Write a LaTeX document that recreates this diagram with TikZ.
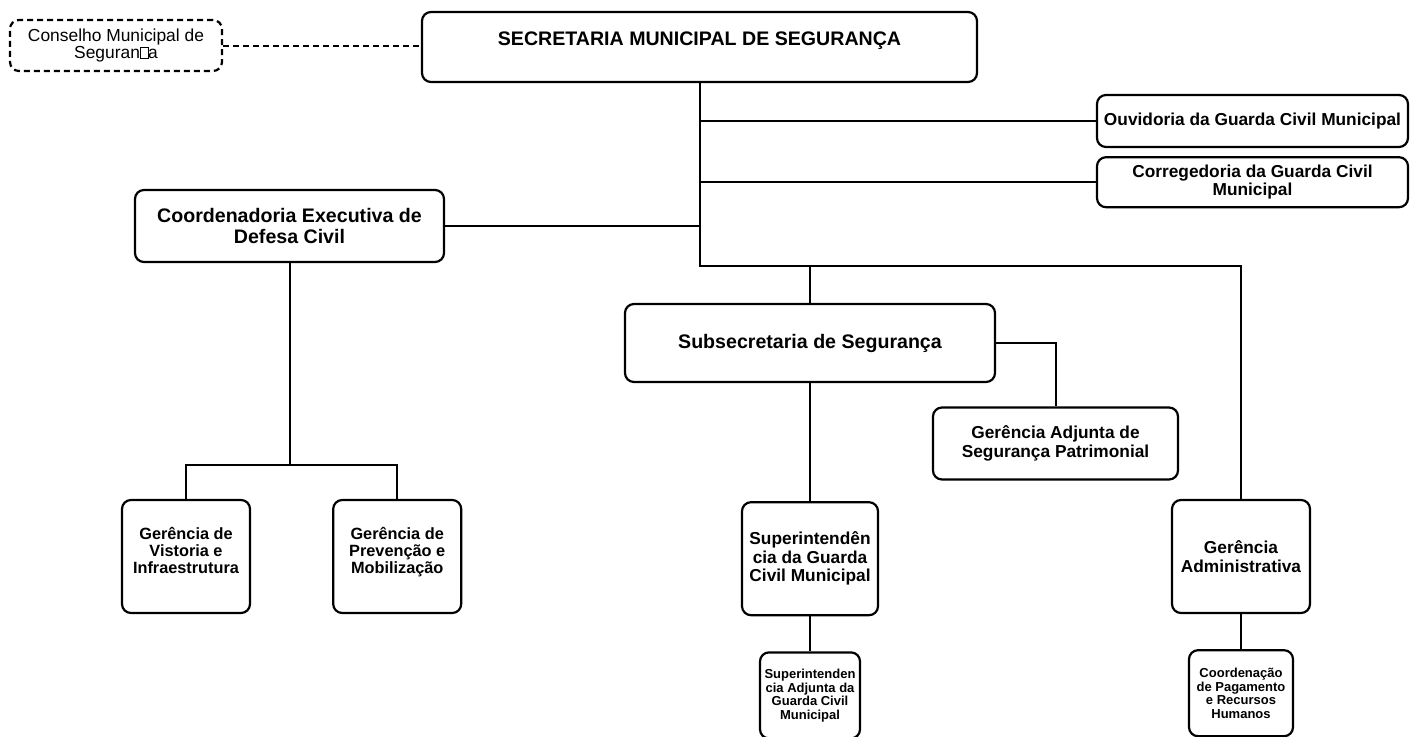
\documentclass[tikz,border=0pt]{standalone}
\usepackage{fontspec}
\setmainfont{Liberation Sans}
\usetikzlibrary{positioning}

% square that stands for the glyph the source font was missing
\newcommand{\nochar}{{\setlength{\fboxsep}{0pt}\setlength{\fboxrule}{0.6pt}\fbox{\rule{0pt}{11pt}\hspace{7pt}}}}

\begin{document}
\begin{tikzpicture}[x=1pt, y=-1pt, line width=2pt,
   box/.style={draw, line width=2.2pt, rounded corners=9pt, align=center, inner sep=2pt},
   big/.style={font=\fontsize{19.6}{21.8}\selectfont\bfseries},
   mid/.style={font=\fontsize{17.3}{18.6}\selectfont\bfseries},
   sml/.style={font=\fontsize{16.3}{17}\selectfont\bfseries},
   tny/.style={font=\fontsize{13}{13.5}\selectfont\bfseries},
   link/.style={line width=2pt}]
   \useasboundingbox (0,0) rectangle (1410,736);

   \node[box, dash pattern=on 6pt off 4pt, font=\fontsize{17.4}{15.5}\selectfont,
         minimum width=212pt, minimum height=51pt] (cons) at (116,45.5)
         {Conselho Municipal de\\ Seguran\nochar a};
   \node[box, big, minimum width=555pt, minimum height=70pt, text depth=16pt] (sec) at (699.5,47)
         {SECRETARIA MUNICIPAL DE SEGURANÇA};
   \node[box, mid, minimum width=311pt, minimum height=52pt] (ouv) at (1252.5,121)
         {Ouvidoria da Guarda Civil Municipal};
   \node[box, mid, minimum width=311pt, minimum height=50pt] (corr) [below=8pt of ouv]
         {Corregedoria da Guarda Civil\\ Municipal};
   \node[box, big, minimum width=309pt, minimum height=72pt] (cedc) at (289.5,226)
         {Coordenadoria Executiva de\\ Defesa Civil};
   \node[box, big, minimum width=370pt, minimum height=78pt] (sub) at (810,343)
         {Subsecretaria de Segurança};
   \node[box, mid, minimum width=245pt, minimum height=72pt] (gasp) at (1055.5,443.5)
         {Gerência Adjunta de\\ Segurança Patrimonial};
   \node[box, mid, minimum width=136pt, minimum height=113pt] (sgcm) [below=118pt of sub]
         {Superintendên\\ cia da Guarda\\ Civil Municipal};
   \node[box, tny, minimum width=100pt, minimum height=86pt] (sagcm) [below=35pt of sgcm]
         {Superintenden\\ cia Adjunta da\\ Guarda Civil\\ Municipal};
   \node[box, mid, minimum width=138pt, minimum height=113pt] (gadm) at (1241,556.5)
         {Gerência\\ Administrativa};
   \node[box, tny, minimum width=104pt, minimum height=86pt] (cprh) [below=35pt of gadm]
         {Coordenação\\ de Pagamento\\ e Recursos\\ Humanos};
   \node[box, sml, minimum width=128pt, minimum height=113pt] (gvi) at (186,556.5)
         {Gerência de\\ Vistoria e\\ Infraestrutura\\[-4pt]};
   \node[box, sml, minimum width=128pt, minimum height=113pt] (gpm) [right=81pt of gvi]
         {Gerência de\\ Prevenção e\\ Mobilização\\[-4pt]};

   \coordinate (bus) at (sec.south |- 0,266);
   \coordinate (dc) at (cedc.south |- 0,465);

   \draw[link, dash pattern=on 6pt off 4pt] (cons.east) -- (sec.west |- cons.east);
   \draw[link] (sec.south) -- (bus) -| (gadm.north);
   \draw[link] (sec.south) |- (ouv.west);
   \draw[link] (sec.south) |- (corr.west);
   \draw[link] (sec.south) |- (cedc.east);
   \draw[link] (bus) -| (sub.north);
   \draw[link] (sub.east) -| (gasp.north);
   \draw[link] (sub.south) -- (sgcm.north);
   \draw[link] (sgcm.south) -- (sagcm.north);
   \draw[link] (gadm.south) -- (cprh.north);
   \draw[link] (cedc.south) -- (dc);
   \draw[link] (gvi.north) |- (dc) -| (gpm.north);
\end{tikzpicture}
\end{document}
